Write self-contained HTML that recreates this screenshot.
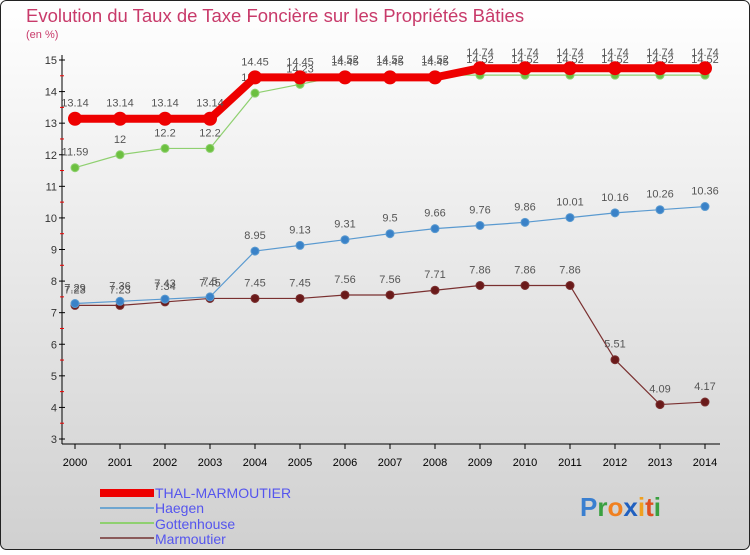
<!DOCTYPE html>
<html><head><meta charset="utf-8"><style>
html,body{margin:0;padding:0}
body{width:750px;height:550px;overflow:hidden;font-family:"Liberation Sans",sans-serif}
</style></head><body>
<svg id="chart" width="750" height="550" xmlns="http://www.w3.org/2000/svg">
<defs><linearGradient id="bg" x1="0" y1="0" x2="0" y2="1"><stop offset="0" stop-color="#ffffff"/><stop offset="1" stop-color="#d0d0d0"/></linearGradient></defs>
<rect x="0.5" y="0.5" width="749" height="549" rx="6" fill="url(#bg)" stroke="#222"/>
<text x="26" y="22" font-size="18.5" fill="#c83a6a">Evolution du Taux de Taxe Foncière sur les Propriétés Bâties</text>
<text x="26" y="38" font-size="11" fill="#c83a6a">(en %)</text>
<g id="axes"></g>
<g id="series"></g>
<g id="legend" font-size="14" fill="#5555ee">
<rect x="100" y="489" width="54" height="8" fill="#ee0000"/>
<text x="155" y="498">THAL-MARMOUTIER</text>
<rect x="100" y="507" width="54" height="2" fill="#6fa6d0"/>
<text x="155" y="513">Haegen</text>
<rect x="100" y="522" width="54" height="2" fill="#8fd070"/>
<text x="155" y="529">Gottenhouse</text>
<rect x="100" y="537" width="54" height="2" fill="#8a5a5a"/>
<text x="155" y="544">Marmoutier</text>
</g>
<g font-size="26" font-weight="bold" font-family="'Liberation Sans',sans-serif">
<text x="580" y="516"><tspan fill="#3a7fd0">P</tspan><tspan fill="#3aa040">r</tspan><tspan fill="#f08020">o</tspan><tspan fill="#2060c0">x</tspan><tspan fill="#f0a020">i</tspan><tspan fill="#e05020">t</tspan><tspan fill="#3aa040">i</tspan></text>
</g>
</svg>
<script>
const years = [2000,2001,2002,2003,2004,2005,2006,2007,2008,2009,2010,2011,2012,2013,2014];
const thal = [13.14,13.14,13.14,13.14,14.45,14.45,14.45,14.45,14.45,14.74,14.74,14.74,14.74,14.74,14.74];
const haegen = [7.29,7.36,7.43,7.5,8.95,9.13,9.31,9.5,9.66,9.76,9.86,10.01,10.16,10.26,10.36];
const gottenhouse = [11.59,12,12.2,12.2,13.95,14.23,14.52,14.52,14.52,14.52,14.52,14.52,14.52,14.52,14.52];
const marmoutier = [7.23,7.23,7.34,7.45,7.45,7.45,7.56,7.56,7.71,7.86,7.86,7.86,5.51,4.09,4.17];
const yTicks = [3,4,5,6,7,8,9,10,11,12,13,14,15];

const NS='http://www.w3.org/2000/svg';
const X0=75, X1=705, Y0=439, Y1=60, VMIN=3, VMAX=15;
function xs(i){return X0+(X1-X0)*i/(years.length-1);}
function ys(v){return Y0-(v-VMIN)*(Y0-Y1)/(VMAX-VMIN);}
function mk(tag,attrs,parent){const e=document.createElementNS(NS,tag);for(const k in attrs)e.setAttribute(k,attrs[k]);parent.appendChild(e);return e;}
const ax=document.getElementById('axes');
const yaxis=mk('line',{x1:X0-13,y1:Y1-5,x2:X0-13,y2:Y0+5,stroke:'#000'},ax);


const xaxis=mk('line',{x1:X0-13,y1:Y0+5,x2:X1+15,y2:Y0+5,stroke:'#000'},ax);


yTicks.forEach(t=>{
  const y=ys(t);
  mk('line',{x1:X0-16,y1:y,x2:X0-10,y2:y,stroke:'#000'},ax);
  if(t<VMAX) mk('line',{x1:X0-15,y1:ys(t+0.5),x2:X0-11,y2:ys(t+0.5),stroke:'#e00'},ax);
  const tx=mk('text',{x:X0-18,y:y+4,'font-size':11,'text-anchor':'end',fill:'#333'},ax);
  tx.textContent=t;
  
  
});
years.forEach((yr,i)=>{
  const x=xs(i);
  mk('line',{x1:x,y1:Y0+5,x2:x,y2:Y0+10,stroke:'#000'},ax);
  const tx=mk('text',{x:x,y:Y0+27,'font-size':11,'text-anchor':'middle',fill:'#000'},ax);
  tx.textContent=yr;
  
  
});
const sg=document.getElementById('series');
function drawSeries(name,vals,color,width,r,fill){
  const g=mk('g',{},sg);
  
  
  const pts=vals.map((v,i)=>xs(i)+','+ys(v)).join(' ');
  const pl=mk('polyline',{points:pts,fill:'none',stroke:color,'stroke-width':width,'stroke-linejoin':'round'},g);
  
  
  vals.forEach((v,i)=>{
    const c=mk('circle',{cx:xs(i),cy:ys(v),r:r,fill:fill,stroke:color,'stroke-width':1},g);
    
    
    const t=mk('text',{x:xs(i),y:ys(v)-12,'font-size':11,'text-anchor':'middle',fill:'#555'},g);
    t.textContent=v;
    
    
  });
}
drawSeries('marmoutier',marmoutier,'#7a3030',1.2,4,'#6a1a1a');
drawSeries('haegen',haegen,'#5a9ad0',1.2,4,'#3a82c8');
drawSeries('gottenhouse',gottenhouse,'#8fd070',1.2,4,'#6cc040');
drawSeries('thal',thal,'#ee0000',8,6.5,'#ee0000');
</script>
</body></html>
